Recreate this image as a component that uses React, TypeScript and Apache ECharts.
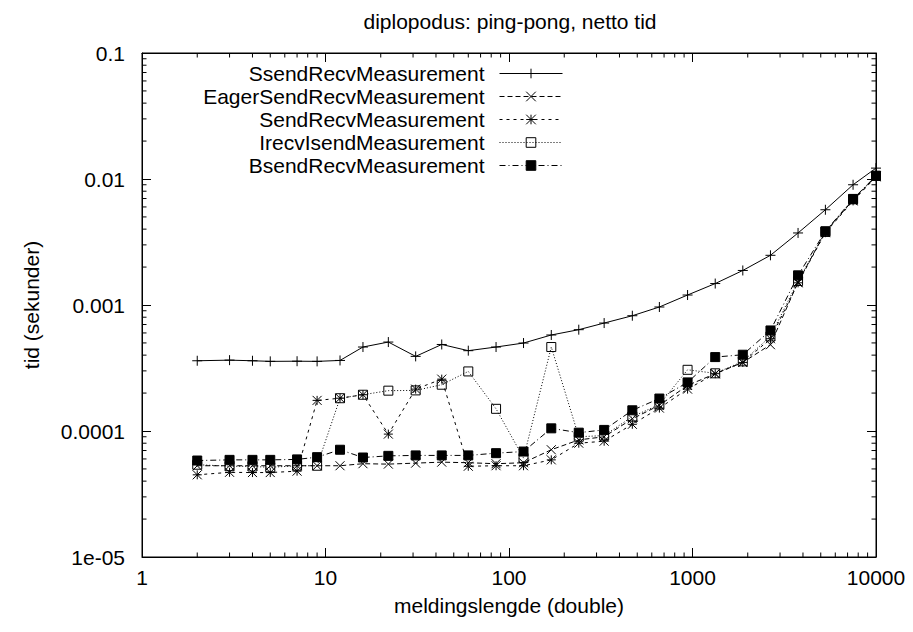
import React, { useEffect, useRef } from "react";
import * as echarts from "echarts";

// message length (doubles)
const msgLen = [2, 3, 4, 5, 7, 9, 12, 16, 22, 31, 43, 60, 85, 120, 170, 240, 330, 470, 660, 940, 1330, 1880, 2660, 3760, 5300, 7500, 10000];

const ssend = [3.61e-4, 3.65e-4, 3.61e-4, 3.57e-4, 3.58e-4, 3.57e-4, 3.63e-4, 4.64e-4, 5.08e-4, 3.91e-4, 4.86e-4, 4.34e-4, 4.64e-4, 4.99e-4, 5.78e-4, 6.37e-4, 7.19e-4, 8.22e-4, 9.64e-4, 1.2e-3, 1.48e-3, 1.88e-3, 2.48e-3, 3.73e-3, 5.7e-3, 9.0e-3, 1.22e-2];
const eager = [5.3e-5, 5.3e-5, 5.3e-5, 5.3e-5, 5.3e-5, 5.3e-5, 5.3e-5, 5.5e-5, 5.46e-5, 5.56e-5, 5.66e-5, 5.6e-5, 5.5e-5, 5.6e-5, 7.1e-5, 8.5e-5, 9.0e-5, 1.25e-4, 1.6e-4, 2.3e-4, 2.85e-4, 3.5e-4, 4.84e-4, 1.52e-3, 3.8e-3, 6.8e-3, 1.05e-2];
const sendRecv = [4.49e-5, 4.7e-5, 4.68e-5, 4.68e-5, 4.8e-5, 1.75e-4, 1.82e-4, 1.94e-4, 9.45e-5, 2.15e-4, 2.58e-4, 5.25e-5, 5.3e-5, 5.3e-5, 5.9e-5, 8.0e-5, 8.3e-5, 1.13e-4, 1.52e-4, 2.15e-4, 2.85e-4, 3.5e-4, 5.4e-4, 1.5e-3, 3.75e-3, 6.7e-3, 1.04e-2];
const irecv = [5.4e-5, 5.26e-5, 5.23e-5, 5.15e-5, 5.3e-5, 5.3e-5, 1.82e-4, 1.94e-4, 2.09e-4, 2.1e-4, 2.33e-4, 2.97e-4, 1.5e-4, 6.1e-5, 4.64e-4, 9.0e-5, 9.2e-5, 1.3e-4, 1.62e-4, 3.06e-4, 2.87e-4, 3.57e-4, 5.63e-4, 1.55e-3, 3.8e-3, 6.9e-3, 1.06e-2];
const bsend = [5.83e-5, 5.9e-5, 5.9e-5, 5.9e-5, 5.95e-5, 6.2e-5, 7.1e-5, 6.16e-5, 6.35e-5, 6.4e-5, 6.4e-5, 6.4e-5, 6.67e-5, 6.87e-5, 1.05e-4, 9.7e-5, 1.02e-4, 1.46e-4, 1.81e-4, 2.43e-4, 3.86e-4, 4.03e-4, 6.28e-4, 1.72e-3, 3.85e-3, 6.95e-3, 1.06e-2];

const seriesNames = ["SsendRecvMeasurement", "EagerSendRecvMeasurement", "SendRecvMeasurement", "IrecvIsendMeasurement", "BsendRecvMeasurement"];

const xTickLabels = ["1", "10", "100", "1000", "10000"];
const yTickLabels = ["1e-05", "0.0001", "0.001", "0.01", "0.1"];

const X_MIN = 1, X_MAX = 10000, Y_MIN = 1e-5, Y_MAX = 0.1;
const minorMult = [2, 3, 4, 5, 6, 7, 8, 9];
const xDecades = [1, 10, 100, 1000];
const yDecades = [1e-5, 1e-4, 1e-3, 1e-2];

const FONT = "'Liberation Sans', Arial, Helvetica, sans-serif";

const SYM_PLUS = "path://M5,0 L5,10 M0,5 L10,5";
const SYM_CROSS = "path://M0,0 L10,10 M10,0 L0,10";
const SYM_STAR = "path://M5,0 L5,10 M0,5 L10,5 M0,0 L10,10 M10,0 L0,10";
const SYM_BOX = "path://M0,0 L10,0 L10,10 L0,10 Z";

export default function App() {
  const ref = useRef<HTMLDivElement>(null);
  useEffect(() => {
    if (!ref.current) return;
    const chart = echarts.init(ref.current, undefined, { renderer: "svg" });

    const xMinor: number[][] = [];
    xDecades.forEach((d) => minorMult.forEach((m) => xMinor.push([d * m, Y_MIN])));
    const yMinor: number[][] = [];
    yDecades.forEach((d) => minorMult.forEach((m) => yMinor.push([X_MIN, d * m])));

    const mk = (vals: number[]) => msgLen.map((x, i) => [x, vals[i]]);
    const lineSeries = (name: string, vals: number[], symbol: string, size: number, dash: any, fill: string) => ({
      name,
      type: "line",
      data: mk(vals),
      symbol,
      symbolSize: size,
      lineStyle: { color: "#000", width: 1, type: dash },
      itemStyle: { color: fill, borderColor: "#000", borderWidth: 1 },
      emphasis: { disabled: true },
      z: 3,
    });

    const tickStyle = { stroke: "#000", lineWidth: 1 };

    const axisCommon = {
      type: "log",
      logBase: 10,
      axisLine: { show: true, lineStyle: { color: "#000", width: 1 } },
      axisTick: { show: true, inside: true, length: 9, lineStyle: { color: "#000", width: 1 } },
      splitLine: { show: false },
      minorTick: { show: false },
    };

    chart.setOption({
      animation: false,
      backgroundColor: "#fff",
      title: {
        text: "diplopodus: ping-pong, netto tid",
        left: 505,
        top: 6,
        textAlign: "center",
        textStyle: { fontFamily: FONT, fontSize: 21, fontWeight: "normal", color: "#000" },
      },
      grid: { left: 142, right: 37, top: 53, bottom: 75, show: true, borderColor: "#000", borderWidth: 1, backgroundColor: "transparent" },
      legend: {
        data: seriesNames,
        orient: "vertical",
        align: "right",
        right: 350,
        top: 63,
        padding: 0,
        itemWidth: 63,
        itemHeight: 12,
        itemGap: 2,
        selectedMode: false,
        textStyle: { fontFamily: FONT, fontSize: 21, color: "#000", padding: [0, 10, 0, 0], lineHeight: 21 },
        itemStyle: { borderWidth: 1 },
        lineStyle: { width: 1 },
      },
      xAxis: [
        {
          ...axisCommon,
          min: X_MIN,
          max: X_MAX,
          name: "meldingslengde (double)",
          nameLocation: "middle",
          nameGap: 38,
          nameTextStyle: { fontFamily: FONT, fontSize: 21, color: "#000" },
          axisLabel: {
            fontFamily: FONT,
            fontSize: 21,
            color: "#000",
            margin: 10,
            formatter: (v: number) => xTickLabels[Math.round(Math.log10(v))] ?? "",
          },
        },
        {
          ...axisCommon,
          min: X_MIN,
          max: X_MAX,
          position: "top",
          axisLabel: { show: false },
        },
      ],
      yAxis: [
        {
          ...axisCommon,
          min: Y_MIN,
          max: Y_MAX,
          name: "tid (sekunder)",
          nameLocation: "middle",
          nameRotate: 90,
          nameGap: 100,
          nameTextStyle: { fontFamily: FONT, fontSize: 21, color: "#000" },
          axisLabel: {
            fontFamily: FONT,
            fontSize: 21,
            color: "#000",
            margin: 17,
            formatter: (v: number) => yTickLabels[Math.round(Math.log10(v)) + 5] ?? "",
          },
        },
        {
          ...axisCommon,
          min: Y_MIN,
          max: Y_MAX,
          position: "right",
          axisLabel: { show: false },
        },
      ],
      series: [
        lineSeries(seriesNames[0], ssend, SYM_PLUS, 10, "solid", "transparent"),
        lineSeries(seriesNames[1], eager, SYM_CROSS, 9, [5, 3], "transparent"),
        lineSeries(seriesNames[2], sendRecv, SYM_STAR, 9, [3, 4], "transparent"),
        lineSeries(seriesNames[3], irecv, SYM_BOX, 9, [1, 2], "transparent"),
        lineSeries(seriesNames[4], bsend, "rect", 9, [6, 3, 1, 3], "#000"),
        {
          type: "custom",
          name: "xminor",
          data: xMinor,
          silent: true,
          renderItem: (params: any, api: any) => {
            const p = api.coord([api.value(0), Y_MIN]);
            const cs = params.coordSys;
            const b = cs.y + cs.height;
            return {
              type: "group",
              children: [
                { type: "line", shape: { x1: p[0], y1: b, x2: p[0], y2: b - 4.5 }, style: tickStyle },
                { type: "line", shape: { x1: p[0], y1: cs.y, x2: p[0], y2: cs.y + 4.5 }, style: tickStyle },
              ],
            };
          },
        },
        {
          type: "custom",
          name: "yminor",
          data: yMinor,
          silent: true,
          renderItem: (params: any, api: any) => {
            const p = api.coord([X_MIN, api.value(1)]);
            const cs = params.coordSys;
            const r = cs.x + cs.width;
            return {
              type: "group",
              children: [
                { type: "line", shape: { x1: cs.x, y1: p[1], x2: cs.x + 4.5, y2: p[1] }, style: tickStyle },
                { type: "line", shape: { x1: r, y1: p[1], x2: r - 4.5, y2: p[1] }, style: tickStyle },
              ],
            };
          },
        },
      ],
    });
    return () => chart.dispose();
  }, []);
  return <div ref={ref} style={{ width: 913, height: 632, position: "absolute", left: 0, top: 0 }} />;
}
